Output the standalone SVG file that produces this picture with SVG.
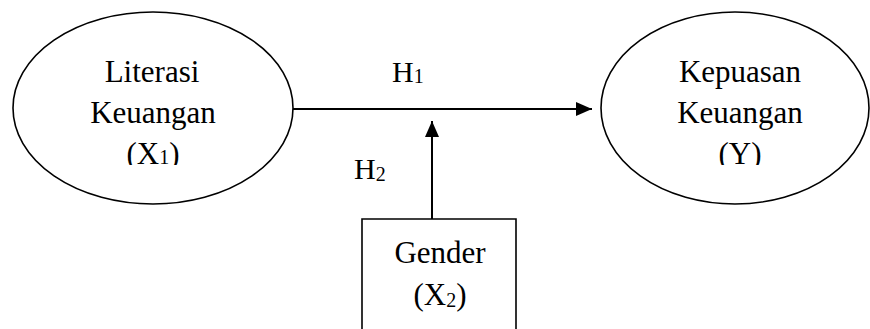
<svg xmlns="http://www.w3.org/2000/svg" width="870" height="329" viewBox="0 0 870 329">
<style>
.shape{fill:#fff;stroke:#000;stroke-width:1.6}
.lbl{font-family:"Liberation Serif","Times New Roman",serif;font-size:31px;fill:#000;text-anchor:middle}
.hl{font-family:"Liberation Serif","Times New Roman",serif;font-size:30px;fill:#000}
.sub{font-size:20px}
.conn{stroke:#000;stroke-width:2;fill:none}
</style>
<defs>
<marker id="ah" markerWidth="16" markerHeight="14" refX="16" refY="7" orient="auto" markerUnits="userSpaceOnUse">
<path d="M0,0 L16,7 L0,14 Z" fill="#000"/>
</marker>
<clipPath id="clipL"><rect x="0" y="0" width="870" height="165"/></clipPath>
</defs>
<rect width="870" height="329" fill="#fff"/>
<g id="connectors">
<line class="conn" x1="293" y1="109" x2="592" y2="109" marker-end="url(#ah)"/>
<line class="conn" x1="432" y1="219" x2="432" y2="121" marker-end="url(#ah)"/>
<text class="hl" x="392" y="82">H<tspan class="sub" dy="1">1</tspan></text>
<text class="hl" x="354" y="179">H<tspan class="sub" dy="2">2</tspan></text>
</g>
<g id="literasi">
<ellipse class="shape" cx="153" cy="108" rx="140" ry="96"/>
<g clip-path="url(#clipL)">
<text class="lbl" x="152" y="82">Literasi</text>
<text class="lbl" x="153" y="123">Keuangan</text>
<text class="lbl" x="153" y="164">(X<tspan class="sub">1</tspan>)</text>
</g>
</g>
<g id="kepuasan">
<ellipse class="shape" cx="735" cy="108" rx="134" ry="96"/>
<g clip-path="url(#clipL)">
<text class="lbl" x="740" y="82">Kepuasan</text>
<text class="lbl" x="740" y="123">Keuangan</text>
<text class="lbl" x="740" y="164">(Y)</text>
</g>
</g>
<g id="gender">
<path class="shape" d="M362,330 L362,219 L516,219 L516,330"/>
<text class="lbl" x="440" y="263">Gender</text>
<text class="lbl" x="440" y="305">(X<tspan class="sub" dy="2">2</tspan><tspan dy="-2">)</tspan></text>
</g>
</svg>
